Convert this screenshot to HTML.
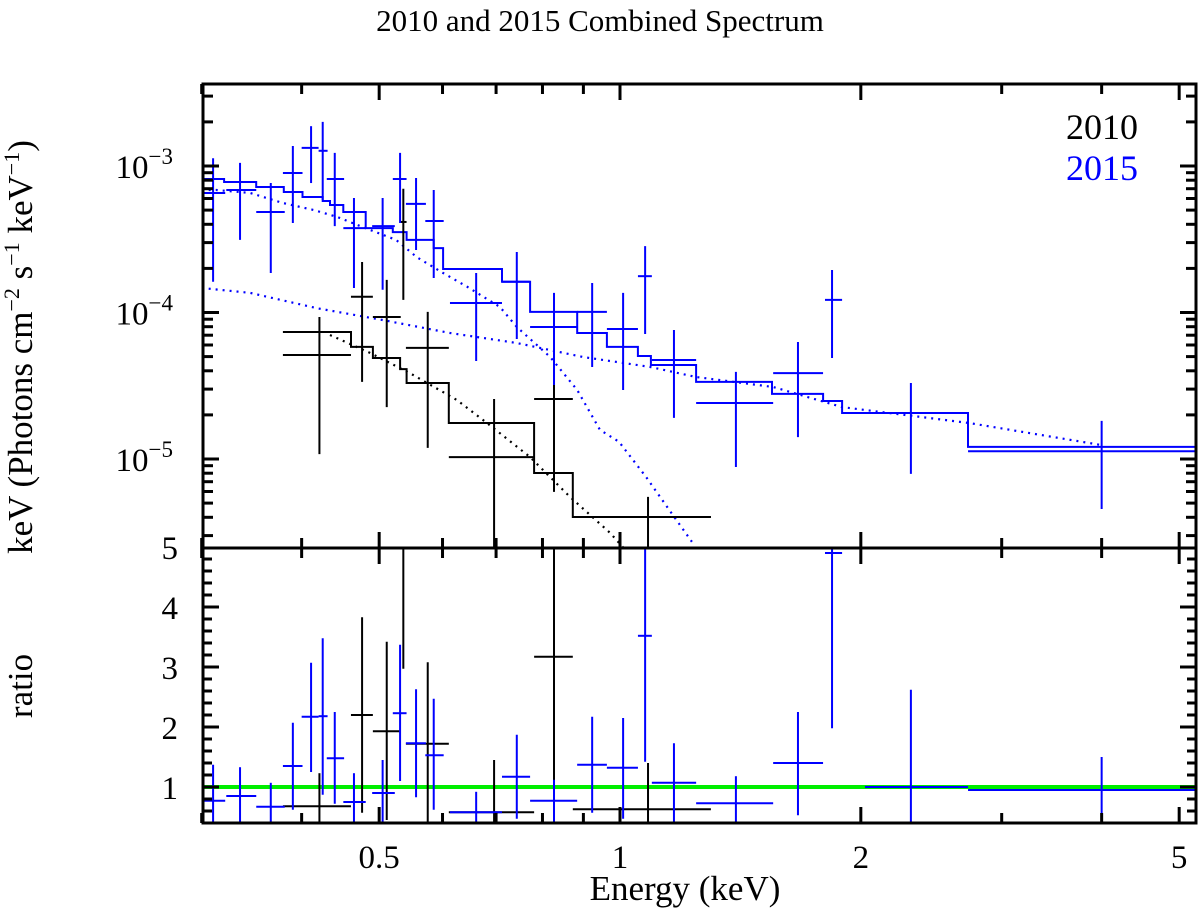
<!DOCTYPE html>
<html><head><meta charset="utf-8">
<style>
html,body{margin:0;padding:0;background:#fff;}
svg{display:block;font-family:"Liberation Serif","DejaVu Serif",serif;}
</style></head>
<body>
<svg id="chart" width="1200" height="913" viewBox="0 0 1200 913" xmlns="http://www.w3.org/2000/svg">
<defs>
<clipPath id="clipTop"><rect x="203" y="84" width="993" height="464"/></clipPath>
<clipPath id="clipBot"><rect x="203" y="548" width="993" height="275"/></clipPath>
</defs>
<text x="600" y="31" font-size="31" text-anchor="middle">2010 and 2015 Combined Spectrum</text>
<g id="topData" clip-path="url(#clipTop)"></g>
<g id="botData" clip-path="url(#clipBot)"></g>
<g id="axes"></g>
<text x="1138" y="139" font-size="36" text-anchor="end" fill="#000">2010</text>
<text x="1138" y="180" font-size="36" text-anchor="end" fill="#0000ff">2015</text>
<text x="685" y="900" font-size="35" text-anchor="middle">Energy (keV)</text>
<text transform="translate(32,347) rotate(-90)" font-size="35" text-anchor="middle">keV (Photons cm<tspan dy="-13" font-size="22">−2</tspan><tspan dy="13"> s</tspan><tspan dy="-13" font-size="22">−1</tspan><tspan dy="13"> keV</tspan><tspan dy="-13" font-size="22">−1</tspan><tspan dy="13">)</tspan></text>
<text transform="translate(32,686) rotate(-90)" font-size="35" text-anchor="middle">ratio</text>
</svg>
<script>
// ---- data: 2015 (blue) spectrum points ----
const blueE    = [0.310,0.335,0.366,0.390,0.411,0.425,0.440,0.465,0.505,0.531,0.556,0.585,0.661,0.743,0.827,0.923,1.009,1.075,1.168,1.396,1.669,1.841,2.31,4.00];
const blueElo  = [0.300,0.322,0.351,0.379,0.400,0.420,0.430,0.451,0.490,0.520,0.540,0.571,0.613,0.712,0.772,0.884,0.963,1.053,1.096,1.245,1.554,1.804,2.024,2.723];
const blueEhi  = [0.321,0.351,0.381,0.401,0.420,0.431,0.452,0.481,0.523,0.541,0.572,0.602,0.712,0.772,0.884,0.963,1.053,1.096,1.245,1.554,1.794,1.895,2.723,5.31];
const blueF    = [6.54e-4,6.86e-4,4.85e-4,8.96e-4,1.33e-3,1.27e-3,8.15e-4,3.77e-4,3.89e-4,8.15e-4,5.51e-4,4.21e-4,1.16e-4,1.62e-4,7.96e-5,1.01e-4,7.71e-5,1.77e-4,4.74e-5,2.41e-5,3.86e-5,1.22e-4,2.06e-5,1.13e-5];
const blueFhi  = [1.13e-3,1.05e-3,7.65e-4,1.37e-3,1.87e-3,2.00e-3,1.23e-3,6.05e-4,6.05e-4,1.23e-3,8.28e-4,6.86e-4,1.86e-4,2.59e-4,1.36e-4,1.59e-4,1.36e-4,2.84e-4,7.60e-5,3.93e-5,6.29e-5,1.95e-4,3.30e-5,1.82e-5];
const blueFlo  = [1.62e-4,3.13e-4,1.86e-4,4.08e-4,7.65e-4,5.86e-4,3.89e-4,1.47e-4,1.43e-4,4.08e-4,2.67e-4,1.72e-4,4.67e-5,6.59e-5,3.20e-5,4.25e-5,2.96e-5,7.13e-5,1.91e-5,8.82e-6,1.41e-5,4.89e-5,7.91e-6,4.56e-6];
// 2015 model staircase
const blueMLo = [0.300,0.320,0.351,0.380,0.401,0.425,0.434,0.451,0.481,0.520,0.541,0.585,0.601,0.712,0.772,0.884,0.963,1.053,1.093,1.245,1.549,1.794,1.895,2.723];
const blueMHi = [0.320,0.351,0.380,0.401,0.425,0.434,0.451,0.481,0.520,0.541,0.585,0.601,0.712,0.772,0.884,0.963,1.053,1.093,1.245,1.549,1.794,1.895,2.723,5.28];
const blueMF  = [8.15e-4,7.78e-4,7.19e-4,6.65e-4,6.14e-4,5.77e-4,5.42e-4,4.85e-4,3.77e-4,3.54e-4,3.13e-4,2.75e-4,1.98e-4,1.62e-4,1.01e-4,7.24e-5,5.82e-5,5.05e-5,4.38e-5,3.36e-5,2.78e-5,2.49e-5,2.06e-5,1.21e-5];
// 2015 model components (dotted)
const blueSoftE = [0.300,0.313,0.345,0.379,0.414,0.443,0.477,0.525,0.557,0.601,0.644,0.708,0.743,0.818,0.884,0.944,0.997,1.078,1.152,1.230];
const blueSoftF = [6.86e-4,6.86e-4,6.54e-4,5.59e-4,5.01e-4,4.49e-4,3.83e-4,3.13e-4,2.39e-4,1.86e-4,1.50e-4,1.09e-4,7.96e-5,4.97e-5,2.96e-5,1.58e-5,1.31e-5,7.54e-6,4.49e-6,2.72e-6];
const blueHardE = [0.300,0.345,0.418,0.505,0.613,0.743,0.899,1.090,1.245,1.554,1.895,2.731,3.98];
const blueHardF = [1.47e-4,1.36e-4,1.07e-4,8.89e-5,7.24e-5,6.19e-5,4.97e-5,4.25e-5,3.63e-5,3.10e-5,2.26e-5,1.76e-5,1.25e-5];
// ---- data: 2010 (black) spectrum points ----
const blackE   = [0.421,0.476,0.511,0.536,0.575,0.696,0.827,1.084];
const blackElo = [0.379,0.461,0.491,0.531,0.540,0.611,0.781,0.873];
const blackEhi = [0.461,0.491,0.532,0.541,0.611,0.781,0.873,1.299];
const blackF   = [5.13e-5,1.28e-4,9.31e-5,4.15e-4,5.73e-5,1.03e-5,2.57e-5,4.02e-6];
const blackFhi = [9.31e-5,2.21e-4,1.67e-4,7.00e-4,1.01e-4,2.57e-5,4.52e-5,5.51e-6];
const blackFlo = [1.08e-5,3.36e-5,2.26e-5,1.22e-4,1.19e-5,1.0e-6,5.96e-6,1.0e-6];
const blackMLo = [0.379,0.461,0.491,0.531,0.541,0.611,0.781,0.873];
const blackMHi = [0.461,0.491,0.531,0.541,0.611,0.781,0.873,1.299];
const blackMF  = [7.36e-5,5.82e-5,4.89e-5,4.11e-5,3.30e-5,1.76e-5,8.02e-6,4.02e-6];
const blackCompE = [0.434,0.487,0.546,0.625,0.682,0.772,0.866,0.972,1.015];
const blackCompF = [7.02e-5,5.30e-5,3.86e-5,2.53e-5,1.76e-5,1.03e-5,5.51e-6,3.13e-6,2.40e-6];
// ---- ratios ----
const blueR   = [0.77,0.85,0.67,1.35,2.17,2.18,1.48,0.75,0.90,2.23,1.73,1.53,0.58,1.17,0.77,1.37,1.32,3.52,1.07,0.73,1.40,4.90,1.00,0.95];
const blueRhi = [1.37,1.33,1.07,2.07,3.07,3.48,2.25,1.23,1.45,3.37,2.63,2.47,0.92,1.87,1.12,2.17,2.15,5.10,1.73,1.18,2.25,5.10,2.62,1.50];
const blueRlo = [0.30,0.38,0.30,0.62,1.25,0.87,0.72,0.30,0.30,1.10,0.83,0.62,0.30,0.47,0.30,0.57,0.47,1.42,0.42,0.30,0.53,1.98,0.30,0.30];
const blackR   = [0.68,2.20,1.93,5.30,1.72,0.58,3.17,0.63];
const blackRhi = [1.23,3.83,3.42,5.40,3.08,1.45,5.10,1.40];
const blackRlo = [0.30,0.57,0.45,2.97,0.30,0.30,0.30,0.30];
// ---- axis ticks ----
const xTickMajor = [0.5,1,2,5];
const xTickLabels = ["0.5","1","2","5"];
const xTickMinor = [0.3,0.4,0.6,0.7,0.8,0.9,3,4];
const yDecades = [-3,-4,-5];
const rTicks = [1,2,3,4,5];

// ---- scales ----
const X0=620, XD=800;
function xs(e){return X0+XD*Math.log10(e);}
const Y3=166, YD=146.5;
function ys(f){return Y3-(Math.log10(f)+3)*YD;}
function rs(r){return 847-60*r;}
const L=203,R=1196,T=84,MID=548,B=823;
const NS='http://www.w3.org/2000/svg';
function mk(tag,attrs,parent){const el=document.createElementNS(NS,tag);for(const k in attrs)el.setAttribute(k,attrs[k]);parent.appendChild(el);return el;}
const topG=document.getElementById('topData'), botG=document.getElementById('botData'), axG=document.getElementById('axes');

function stairs(lo,hi,f,color,name,parent){
  let d='';
  for(let i=0;i<f.length;i++){
    const y=ys(f[i]);
    d+=(i===0?'M':'L')+xs(lo[i]).toFixed(1)+','+y.toFixed(1)+' L'+xs(hi[i]).toFixed(1)+','+y.toFixed(1)+' ';
  }
  const p=mk('path',{d:d,stroke:color,'stroke-width':2,fill:'none'},parent);
  
  
}
function curve(E,F,color,name,parent){
  let d='';
  for(let i=0;i<E.length;i++) d+=(i===0?'M':'L')+xs(E[i]).toFixed(1)+','+ys(F[i]).toFixed(1)+' ';
  const p=mk('path',{d:d,stroke:color,'stroke-width':2.2,fill:'none','stroke-dasharray':'2 5'},parent);
  
  
}
function crosses(E,lo,hi,v,vhi,vlo,yf,color,name,parent){
  for(let i=0;i<E.length;i++){
    const g=mk('g',{},parent);
    
    
    mk('line',{x1:xs(lo[i]),x2:xs(hi[i]),y1:yf(v[i]),y2:yf(v[i]),stroke:color,'stroke-width':2},g);
    mk('line',{x1:xs(E[i]),x2:xs(E[i]),y1:yf(vhi[i]),y2:yf(vlo[i]),stroke:color,'stroke-width':2},g);
  }
}
// top panel
curve(blueSoftE,blueSoftF,'#0000ff','model-2015-soft-component',topG);
curve(blueHardE,blueHardF,'#0000ff','model-2015-hard-component',topG);
curve(blackCompE,blackCompF,'#000','model-2010-component',topG);
stairs(blackMLo,blackMHi,blackMF,'#000','model-2010',topG);
stairs(blueMLo,blueMHi,blueMF,'#0000ff','model-2015',topG);
crosses(blackE,blackElo,blackEhi,blackF,blackFhi,blackFlo,ys,'#000','data-2010-point',topG);
crosses(blueE,blueElo,blueEhi,blueF,blueFhi,blueFlo,ys,'#0000ff','data-2015-point',topG);
// ratio panel
const gl=mk('line',{x1:L,x2:R,y1:rs(1),y2:rs(1),stroke:'#00ee00','stroke-width':4},botG);


crosses(blackE,blackElo,blackEhi,blackR,blackRhi,blackRlo,rs,'#000','ratio-2010-point',botG);
crosses(blueE,blueElo,blueEhi,blueR,blueRhi,blueRlo,rs,'#0000ff','ratio-2015-point',botG);

// frames
for(const [y1,y2] of [[T,MID],[MID,B]]){
  const r=mk('rect',{x:L,y:y1,width:R-L,height:y2-y1,fill:'none',stroke:'#000','stroke-width':3},axG);
  
  
}
function tk(x1,y1,x2,y2,w){mk('line',{x1:x1,y1:y1,x2:x2,y2:y2,stroke:'#000','stroke-width':w||3},axG);}
// x ticks on both panels
for(const e of xTickMajor.concat(xTickMinor)){
  const maj=xTickMajor.includes(e), len=maj?16:10, x=xs(e);
  tk(x,T,x,T+len); tk(x,MID,x,MID-len); tk(x,MID,x,MID+len); tk(x,B,x,B-len);
}
xTickMajor.forEach((e,i)=>{
  const t=mk('text',{x:xs(e),y:868,'font-size':33,'text-anchor':'middle'},axG);
  t.textContent=xTickLabels[i];
  
  
});
// y ticks top (log)
for(let dec=-6;dec<=-2;dec++){
  for(let m=1;m<=9;m++){
    const y=ys(m*Math.pow(10,dec));
    if(y<T+1||y>MID-1)continue;
    const len=m===1?16:10;
    tk(L,y,L+len,y); tk(R,y,R-len,y);
  }
}
yDecades.forEach(d=>{
  const t=mk('text',{x:173,y:ys(Math.pow(10,d))+12,'font-size':33,'text-anchor':'end'},axG);
  t.textContent='10';
  
  
  const s=mk('tspan',{dy:-14,'font-size':23},t);
  s.textContent='−'+(-d);
});
// ratio ticks
for(let r=0.4;r<=5.01;r+=0.2){
  const y=rs(r), maj=Math.abs(r-Math.round(r))<0.01;
  if(y<MID+1||y>B-1)continue;
  const len=maj?16:9;
  tk(L,y,L+len,y); tk(R,y,R-len,y);
}
rTicks.forEach(r=>{
  const t=mk('text',{x:178,y:rs(r)+12,'font-size':33,'text-anchor':'end'},axG);
  t.textContent=String(r);
  
  
});
</script>
</body></html>
